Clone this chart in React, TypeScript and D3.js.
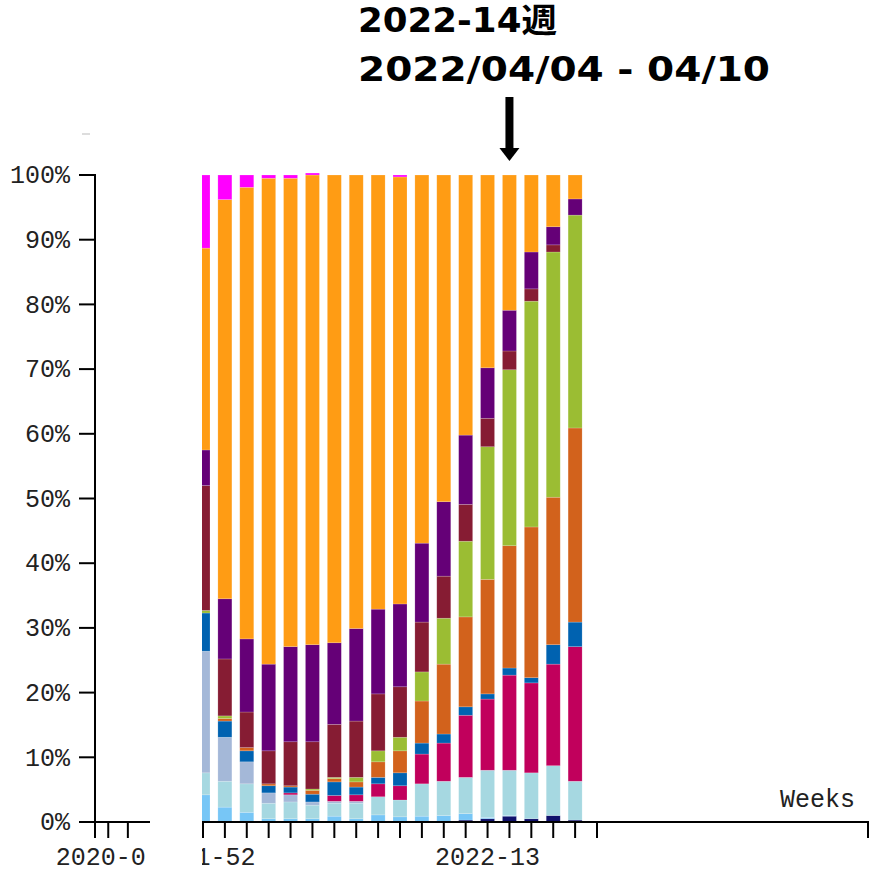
import * as React from "react";
import { scaleLinear, stack, line } from "d3";

// weeks shown as bars (index 18 only gets a tick)
const weeks = [
  "2021-52", "2022-01", "2022-02", "2022-03", "2022-04", "2022-05", "2022-06",
  "2022-07", "2022-08", "2022-09", "2022-10", "2022-11", "2022-12", "2022-13",
  "2022-14", "2022-15", "2022-16", "2022-17",
];
const tickWeeks = [...weeks, "2022-18"];
const labelledWeeks = ["2021-52", "2022-13"];

// share per lineage (%), bottom to top
const navy = [0, 0, 0, 0, 0, 0, 0, 0, 0, 0, 0, 0, 0.3, 0.5, 0.9, 0.5, 1.0, 0.3];
const sky = [4.2, 2.3, 1.5, 0.5, 0.5, 0.5, 0.9, 0.5, 1.1, 0.8, 0.9, 1.0, 1.0, 0.2, 0.1, 0, 0, 0];
const teal = [3.4, 4.0, 4.4, 2.4, 2.6, 2.1, 2.0, 2.4, 2.8, 2.6, 5.0, 5.3, 5.6, 7.3, 7.0, 7.1, 7.7, 6.0];
const lavender = [18.8, 6.8, 3.4, 1.6, 1.1, 0.5, 0.3, 0.3, 0, 0, 0, 0, 0, 0, 0, 0, 0, 0];
const crimson = [0, 0, 0, 0, 0.3, 0, 0.9, 1.0, 2.0, 2.2, 4.6, 5.9, 9.6, 11.0, 14.7, 13.9, 15.7, 20.8];
const blue = [5.9, 2.5, 1.7, 1.1, 0.9, 1.2, 2.1, 1.2, 1.0, 2.0, 1.7, 1.4, 1.3, 0.8, 1.1, 0.8, 3.0, 3.8];
const rust = [0, 0.4, 0.5, 0.3, 0.2, 0.6, 0.5, 0.8, 2.4, 3.4, 6.5, 10.8, 13.9, 17.7, 18.9, 23.3, 22.8, 30.0];
const lime = [0.4, 0.4, 0, 0, 0, 0.2, 0.2, 0.7, 1.7, 2.1, 4.5, 7.1, 11.7, 20.5, 27.2, 34.9, 37.9, 32.9];
const wine = [19.3, 8.8, 5.5, 5.1, 6.8, 7.3, 8.2, 8.7, 8.8, 7.8, 7.7, 6.5, 5.7, 4.4, 2.9, 1.9, 1.1, 0];
const purple = [5.5, 9.3, 11.3, 13.4, 14.7, 15.0, 12.6, 14.3, 13.1, 12.8, 12.2, 11.5, 10.7, 7.8, 6.3, 5.7, 2.8, 2.5];
const orange = [31.2, 61.7, 69.8, 75.1, 72.4, 72.6, 72.3, 70.1, 67.1, 66.0, 56.9, 50.5, 40.2, 29.8, 20.9, 11.9, 8.0, 3.7];
const magenta = [11.3, 3.8, 1.9, 0.5, 0.5, 0.3, 0, 0, 0, 0.3, 0, 0, 0, 0, 0, 0, 0, 0];

const seriesNames = ["navy", "sky", "teal", "lavender", "crimson", "blue", "rust", "lime", "wine", "purple", "orange", "magenta"];
const seriesValues = [navy, sky, teal, lavender, crimson, blue, rust, lime, wine, purple, orange, magenta];
const colors = ["#10106b", "#77c6f6", "#a6d8e1", "#a4b8d8", "#c1005c", "#0062b0", "#d2621c", "#9bbd33", "#861c33", "#650077", "#ff9c14", "#ff00ff"];

const yTicks = [0, 10, 20, 30, 40, 50, 60, 70, 80, 90, 100];

export default function App() {
  const rows = weeks.map((w, i) => {
    const r: any = { week: w };
    seriesNames.forEach((n, k) => (r[n] = seriesValues[k][i]));
    return r;
  });
  const layers = stack().keys(seriesNames)(rows);

  const x = scaleLinear().domain([0, tickWeeks.length - 1]).range([203, 597]);
  const y = scaleLinear().domain([0, 100]).range([822, 175]);
  // small overview axis on the left
  const xMini = scaleLinear().domain([0, 1]).range([95, 148]);
  const miniTicks = [0, 0.25, 0.62];

  const barW = 14;
  const mono = "'Liberation Mono', 'DejaVu Sans Mono', monospace";
  const path = line();

  return (
    <svg width={872} height={879} style={{ position: "absolute", left: 0, top: 0 }}>
      <defs>
        <clipPath id="plot">
          <rect x={202} y={0} width={670} height={879} />
        </clipPath>
        <clipPath id="mini">
          <rect x={0} y={0} width={146} height={879} />
        </clipPath>
      </defs>

      {/* title + arrow */}
      <g fontFamily="'DejaVu Sans', 'Noto Sans CJK JP', sans-serif" fontWeight="bold" fontSize={33} fill="#000">
        <text x={358} y={32} textLength={199} lengthAdjust="spacingAndGlyphs">2022-14週</text>
        <text x={358} y={81} textLength={412} lengthAdjust="spacingAndGlyphs">2022/04/04 - 04/10</text>
      </g>
      <rect x={x(14) - 4} y={97} width={8} height={53} fill="#000" />
      <path d={path([[x(14) - 10, 148], [x(14) + 10, 148], [x(14), 161]]) + "Z"} fill="#000" />

      <line x1={82} x2={90} y1={134} y2={134} stroke="#bbb" strokeWidth={1} />

      {/* bars */}
      <g clipPath="url(#plot)">
        {layers.map((layer, k) => (
          <g key={layer.key} fill={colors[k]}>
            {layer.map((d, i) =>
              d[1] - d[0] > 0 ? (
                <rect
                  key={i}
                  x={x(i) - barW / 2}
                  y={y(d[1])}
                  width={barW}
                  height={y(d[0]) - y(d[1])}
                  stroke="#fff"
                  strokeOpacity={0.3}
                  strokeWidth={0.6}
                />
              ) : null
            )}
          </g>
        ))}
      </g>

      {/* y axis */}
      <g fontFamily={mono} fontSize={25} fill="#222">
        <line x1={95} x2={95} y1={y(100) - 1} y2={838} stroke="#000" strokeWidth={2} />
        {yTicks.map((t) => (
          <g key={t}>
            <line x1={79} x2={95} y1={y(t)} y2={y(t)} stroke="#000" strokeWidth={2} />
            <text x={70} y={y(t)} dy="0.33em" textAnchor="end">{t}%</text>
          </g>
        ))}
      </g>

      {/* mini x axis */}
      <g fontFamily={mono} fontSize={25} fill="#222">
        <line x1={79} x2={150} y1={822} y2={822} stroke="#000" strokeWidth={2} />
        {miniTicks.map((t) => (
          <line key={t} x1={xMini(t)} x2={xMini(t)} y1={822} y2={838} stroke="#000" strokeWidth={2} />
        ))}
        <g clipPath="url(#mini)">
          <text x={xMini(0.25)} y={865} textAnchor="middle">2020-01</text>
        </g>
      </g>

      {/* main x axis */}
      <g fontFamily={mono} fontSize={25} fill="#222">
        <line x1={202} x2={869} y1={822} y2={822} stroke="#000" strokeWidth={2} />
        <line x1={868} x2={868} y1={822} y2={838} stroke="#000" strokeWidth={2} />
        <g clipPath="url(#plot)">
          {tickWeeks.map((w, i) => (
            <g key={w}>
              <line x1={x(i)} x2={x(i)} y1={822} y2={838} stroke="#000" strokeWidth={2} />
              {labelledWeeks.includes(w) ? (
                <text x={x(i)} y={865} textAnchor="middle">{w}</text>
              ) : null}
            </g>
          ))}
        </g>
        <text x={855} y={807} textAnchor="end">Weeks</text>
      </g>
    </svg>
  );
}
